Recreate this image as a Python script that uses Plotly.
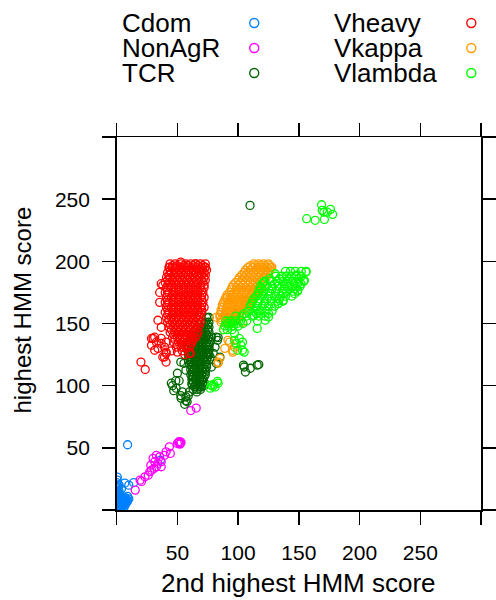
import plotly.graph_objects as go

# ---------------- data ----------------
groups = ["Cdom", "NonAgR", "TCR", "Vheavy", "Vkappa", "Vlambda"]
colors = ["#0080ff", "#ff00ff", "#006400", "#ff0000", "#ff9a00", "#00ff00"]

tick_vals = [0, 50, 100, 150, 200, 250, 300]
tick_text = ["", "50", "100", "150", "200", "250", ""]

cdom_x = [0, 0, 0, 0, 0, 0, 0, 1, 1, 1, 1, 1, 2, 2, 2, 2, 3, 3, 3, 4, 4, 4,
          5, 5, 6, 6, 7, 7, 8, 8, 9, 0.5, 6.7, 10, 14, 9, 36, 2, 4, 3,
          1.5, 2.5, 3.5, 4.5, 5.5, 6.5, 7.5, 8.5, 0.5, 1.5, 2.5, 3.5, 0.5, 1.5, 0.5,
          1, 2, 3, 5, 6, 7, 9, 10]
cdom_y = [2, 5, 8, 11, 14, 18, 22, 1, 4, 7, 10, 16, 3, 6, 9, 13, 2, 5, 8, 1, 4, 7,
          3, 6, 2, 5, 4, 8, 6, 9, 7, 26.5, 21.6, 20, 22, 52.5, 40, 20, 17, 12,
          2.5, 1.5, 3.5, 5.5, 4.5, 6.5, 5.5, 8, 12, 11, 12, 10, 19, 20, 24,
          14, 15, 11, 10, 8, 10, 11, 9]

nonagr_x = [15.3, 19.3, 20.5, 23.3, 26, 27.3, 28.7, 28.1, 30.8, 32.7, 31.3, 30, 32.7,
            34, 35.4, 36.7, 36.7, 39.4, 40.7, 43.4, 44.2, 50, 51, 52, 53, 51.5, 52.5,
            61, 65.5]
nonagr_y = [16, 24, 23, 26.7, 28, 30.8, 32, 36, 33.5, 34.8, 38.8, 41.5, 44,
            37.5, 42.8, 38.8, 34.8, 44, 46.8, 50.8, 45.5, 53.5, 54.5, 53, 54.5, 55, 53.5,
            80, 82]

# dense cores: (y, [x values]) rows
tcr_rows = [
    (155, [74, 76]), (151, [70, 73, 76]), (149, [72, 75]),
    (147, [67, 70, 73, 76]), (145, [66, 69, 72, 75]),
    (143, [64, 67, 70, 73, 76]), (141, [62, 65, 68, 71, 74]),
    (139, [61, 64, 67, 70, 73, 76]), (137, [60, 63, 66, 69, 72, 75]),
    (135, [59, 62, 65, 68, 71, 74, 77]), (133, [58, 61, 64, 67, 70, 73, 76]),
    (131, [59, 62, 65, 68, 71, 74, 76]), (129, [58, 61, 64, 67, 70, 73, 76]),
    (127, [60, 63, 66, 69, 72, 75]), (125, [59, 62, 65, 68, 71, 74, 76]),
    (123, [60, 63, 66, 69, 72, 75]), (121, [59, 62, 65, 68, 71, 74]),
    (119, [61, 64, 67, 70, 73]), (117, [60, 63, 66, 69, 72, 74]),
    (115, [62, 65, 68, 71, 74]), (113, [61, 64, 67, 70, 73]),
    (111, [62, 65, 68, 71, 73]), (109, [61, 64, 67, 70, 73]),
    (107, [63, 66, 69, 72]), (105, [62, 65, 68, 71]),
    (103, [63, 66, 69, 72]), (101, [62, 65, 68, 71]),
    (99, [64, 67, 70]), (97, [63, 66, 69]),
]
tcr_x = [47, 46, 51.4, 54, 57, 53, 58, 59, 50, 55.4, 57, 62, 64.8, 81, 82, 79.5, 82, 77,
         83, 74, 83.6, 75.5, 78, 85, 105, 106, 110, 115.7, 117, 104.4, 75.5, 78, 52.8,
         59.4, 60.8, 48.7, 52.8, 57, 68.8, 62, 68.8, 109.8, 45, 49, 56, 60, 66, 70, 72]
tcr_y = [96, 100, 104, 95, 91, 90, 87, 92, 110, 118, 112.5, 107, 99, 131, 139, 126, 118,
         123, 136.5, 140.5, 138.7, 126, 115, 123, 115, 111, 114, 116.5, 117, 116.5, 155,
         139, 119, 127, 119, 104, 92, 88, 99, 102, 107, 245, 102, 98, 85, 95, 95, 104, 100]

vheavy_rows = [
    (198, [44, 48, 53, 57, 61, 65, 69, 73]),
    (196.5, [46, 50, 55, 59, 63, 67, 71]),
    (195, [43, 46, 50, 54, 58, 62, 66, 70, 73]),
    (193, [44, 48, 52, 56, 60, 64, 68, 71, 74]),
    (191, [42, 45, 49, 53, 57, 61, 65, 69, 72]),
    (189, [43, 47, 51, 55, 59, 63, 67, 70, 73]),
    (187, [41, 44, 48, 52, 56, 60, 64, 68, 72]),
    (185, [42, 46, 50, 54, 58, 62, 66, 70, 73]),
    (183, [40, 43, 47, 51, 55, 59, 63, 67, 71]),
    (181, [42, 45, 49, 53, 57, 61, 65, 69, 72]),
    (179, [41, 45, 49, 53, 57, 61, 65, 69, 72]),
    (177, [42, 47, 51, 55, 59, 63, 67, 70]),
    (175, [40, 43, 47, 51, 55, 59, 63, 67, 71]),
    (173, [42, 46, 50, 54, 58, 62, 66, 70]),
    (171, [41, 45, 49, 53, 57, 61, 65, 69, 72]),
    (169, [42, 47, 51, 55, 59, 63, 67, 70]),
    (167, [40, 43, 47, 51, 55, 59, 63, 67, 71]),
    (165, [42, 46, 50, 54, 58, 62, 66, 70]),
    (163, [41, 45, 49, 53, 57, 61, 65, 69, 72]),
    (161, [42, 47, 51, 55, 59, 63, 67, 70]),
    (159, [40, 43, 47, 51, 55, 59, 63, 67, 70]),
    (157, [42, 46, 50, 54, 58, 62, 66, 68]),
    (155, [41, 45, 49, 53, 57, 61, 65, 69]),
    (153, [43, 47, 51, 55, 59, 63, 67]),
    (151, [42, 46, 50, 54, 58, 62, 66, 69]),
    (149, [44, 48, 52, 56, 60, 64, 68]),
    (147, [43, 47, 51, 55, 59, 63, 67]),
    (145, [45, 49, 53, 57, 61, 65]),
    (143, [44, 48, 52, 56, 60, 64, 67]),
    (141, [47, 51, 55, 59, 63, 66]),
    (139, [46, 50, 54, 58, 62, 65]),
    (137, [48, 52, 56, 60, 63]),
    (135, [47, 51, 55, 59, 62]),
    (133, [50, 54, 58, 61]),
    (131, [49, 53, 57, 60]),
]
vheavy_x = [20, 23.5, 28.7, 31.3, 36.7, 36.7, 40.7, 40.7, 39.4, 40.7, 40.7, 30, 32.7,
            28.7, 34, 31.3, 39.4, 38, 60.8, 59.4, 35.4, 35.4, 36.7, 34, 36.7, 38,
            52.8, 43.4, 72.8, 64.8, 58, 45, 50, 54, 56]
vheavy_y = [119, 113, 138, 139, 138, 134, 135, 127, 123, 119, 126, 138, 135,
            132.5, 130, 128.5, 131, 123, 126, 126, 175, 167, 182, 152.6, 147, 180.7,
            199.4, 195.4, 195.4, 198, 196.8, 128, 127, 128, 125]

vkappa_rows = [
    (198, [113, 117, 121, 125]),
    (196.5, [110, 114, 118, 122, 126]),
    (195, [108, 112, 116, 120, 124, 127]),
    (193, [106, 110, 114, 118, 122, 126]),
    (191, [105, 109, 113, 117, 121, 125]),
    (189, [103, 107, 111, 115, 119, 123]),
    (187, [101, 105, 109, 113, 117, 121, 123]),
    (185, [100, 104, 108, 112, 116, 120]),
    (183, [98, 102, 106, 110, 114, 118]),
    (181, [96, 100, 104, 108, 112, 116, 120]),
    (179, [95, 99, 103, 107, 111, 115, 119]),
    (177, [94, 98, 102, 106, 110, 114, 118]),
    (175, [93, 97, 101, 105, 109, 113, 117]),
    (173, [91, 95, 99, 103, 107, 111, 115]),
    (171, [90, 94, 98, 102, 106, 110, 114]),
    (169, [89, 93, 97, 101, 105, 109, 112]),
    (167, [88, 92, 96, 100, 104, 108, 111]),
    (165, [87, 91, 95, 99, 103, 107, 110]),
    (163, [87, 91, 95, 99, 103, 107]),
    (161, [86, 90, 94, 98, 102, 106]),
    (159, [86, 90, 94, 98, 102]),
    (157, [85, 89, 93, 97, 101]),
    (155, [85, 89, 93, 97, 101]),
    (153, [86, 90, 94, 98]),
    (151, [86, 90, 94]),
]
vkappa_x = [82, 91, 88, 93, 89, 95.6, 83.6, 85, 97, 103.6, 83.5, 91.6, 95.6, 89, 127.7]
vkappa_y = [155, 171, 145, 135, 130, 128.5, 119, 122, 131, 151, 118, 136.5, 127, 155, 195.4]

vlambda_rows = [
    (192, [139, 143, 147, 152, 156]),
    (188, [131, 136, 140, 144, 148, 152]),
    (186, [126, 134, 142, 150]),
    (184, [122, 127, 132, 137, 141, 145, 150, 154]),
    (182, [120, 130, 140, 149]),
    (180, [118, 123, 128, 133, 138, 142, 147, 151]),
    (178, [119, 128, 138, 147]),
    (176, [117, 121, 126, 131, 136, 140, 145, 149]),
    (174, [117, 127, 137]),
    (172, [115, 120, 125, 130, 135, 139, 144]),
    (170, [113, 124, 134]),
    (168, [112, 117, 122, 127, 132, 137]),
    (166, [111, 122, 133]),
    (164, [110, 115, 120, 125, 130]),
    (160, [108, 113, 118, 123, 128]),
    (158, [105, 115, 125]),
    (156, [98, 103, 107, 112, 117, 122]),
    (152, [90, 94, 98, 102, 107, 116]),
    (150, [91, 95, 99, 104]),
    (148, [89, 92, 96, 100]),
    (145, [88, 91, 95]),
]
vlambda_x = [168.7, 170.6, 173.3, 176, 177.8, 156.4, 163.4, 171, 169.2,
             115.7, 97, 101, 103.6, 98.3, 105, 102.3, 99.6, 97, 103.6,
             77, 79, 81, 83.5, 83, 80, 78,
             155.8, 154.5, 147.8, 149, 130.4, 121, 125, 115.7, 113, 122.4, 133, 137,
             146.5, 151.8]
vlambda_y = [245.5, 239.6, 239.6, 241.8, 237.8, 234.3, 233, 233.7, 241,
             146, 136.5, 138, 128.5, 133.9, 127, 132.5, 128.5, 142, 135,
             98, 99.5, 99, 102, 103.5, 101, 100.5,
             191.4, 184.7, 188.8, 176.7, 190, 183.4, 155.3, 160.6, 156.6, 152.6, 166,
             168.7, 174, 182]


def with_rows(rows, xs, ys):
    rx = [x for y, row in rows for x in row]
    ry = [y for y, row in rows for x in row]
    return rx + list(xs), ry + list(ys)


series = {
    "Cdom": (cdom_x, cdom_y),
    "NonAgR": (nonagr_x, nonagr_y),
    "TCR": with_rows(tcr_rows, tcr_x, tcr_y),
    "Vheavy": with_rows(vheavy_rows, vheavy_x, vheavy_y),
    "Vkappa": with_rows(vkappa_rows, vkappa_x, vkappa_y),
    "Vlambda": with_rows(vlambda_rows, vlambda_x, vlambda_y),
}

# ---------------- layout geometry (page pixels; body margin removed) ----------------
W, H = 496, 600
PL, PR, PT, PB = 119.3, 492.0, 137.0, 510.0
FONT = "Liberation Sans, Arial, Helvetica, sans-serif"
marker_style = dict(symbol="circle-open", size=8, line=dict(width=1.3))

fig = go.Figure()
for name, col in zip(groups, colors):
    xs, ys = series[name]
    fig.add_trace(go.Scatter(x=xs, y=ys, mode="markers", name=name,
                             marker=dict(color=col, **marker_style),
                             showlegend=False, xaxis="x", yaxis="y"))

# key (two columns, text left, symbol right)
key_text_x = [123, 340]
key_sym_x = [260, 482]
key_row_y = [23, 48, 73]
annotations = []
for i, (name, col) in enumerate(zip(groups, colors)):
    c, r = divmod(i, 3)
    fig.add_trace(go.Scatter(x=[key_sym_x[c]], y=[key_row_y[r]], mode="markers",
                             marker=dict(color=col, symbol="circle-open", size=9,
                                         line=dict(width=1.4)),
                             showlegend=False, xaxis="x2", yaxis="y2",
                             hoverinfo="skip", cliponaxis=False))
    annotations.append(dict(text=name, x=key_text_x[c] / W, y=1 - key_row_y[r] / H,
                            xref="paper", yref="paper", xanchor="left", yanchor="middle",
                            showarrow=False, font=dict(size=26, color="black", family=FONT)))

annotations.append(dict(text="2nd highest HMM score", x=(PL + PR) / 2 / W,
                        y=1 - 583 / H,
                        xref="paper", yref="paper", xanchor="center", yanchor="middle",
                        showarrow=False, font=dict(size=26, color="black", family=FONT)))
annotations.append(dict(text="highest HMM score", x=23 / W, y=1 - 310 / H,
                        xref="paper", yref="paper", xanchor="center", yanchor="middle",
                        textangle=-90, showarrow=False,
                        font=dict(size=24, color="black", family=FONT)))

axis_common = dict(range=[0, 300], tickvals=tick_vals, ticktext=tick_text,
                   ticks="outside", ticklen=13, tickwidth=1.5, tickcolor="black",
                   showline=True, linewidth=1.5, linecolor="black", mirror="ticks",
                   showgrid=False, zeroline=False, fixedrange=True,
                   tickfont=dict(size=21, color="black", family=FONT))

fig.update_layout(
    width=W, height=H, margin=dict(l=0, r=0, t=0, b=0),
    paper_bgcolor="white", plot_bgcolor="rgba(0,0,0,0)",
    xaxis=dict(domain=[PL / W, PR / W], ticklabelstandoff=10, **axis_common),
    yaxis=dict(domain=[1 - PB / H, 1 - PT / H], ticklabelstandoff=8, **axis_common),
    xaxis2=dict(domain=[0, 1], range=[0, W], visible=False, fixedrange=True,
                anchor="y2"),
    yaxis2=dict(domain=[0, 1], range=[H, 0], visible=False, fixedrange=True,
                anchor="x2"),
    annotations=annotations,
    showlegend=False,
)

fig.write_html("out.html",
               config={"displayModeBar": False, "staticPlot": True},
               post_script="document.body.style.margin='0';"
                           "document.body.style.overflow='hidden';")
